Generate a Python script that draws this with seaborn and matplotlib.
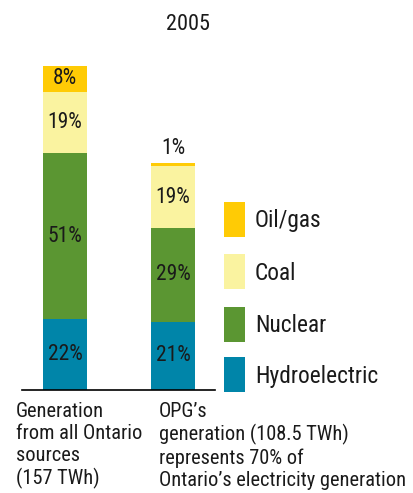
import matplotlib
matplotlib.use("Agg")
import matplotlib.pyplot as plt
import seaborn as sns
import numpy as np
import pandas as pd
from matplotlib.patches import Rectangle

sns.set_theme(style="white")
plt.rcParams['font.family'] = ['Roboto Condensed', 'DejaVu Sans']

categories = ["all", "opg"]
sources = ["Hydroelectric", "Nuclear", "Coal", "Oil/gas"]
hydro = [22, 21]
nuclear = [51, 29]
coal = [19, 19]
oilgas = [8, 1]
colors = {"Hydroelectric": "#0085A9", "Nuclear": "#5B9632",
          "Coal": "#FAF3A0", "Oil/gas": "#FFCB05"}
legend_order = ["Oil/gas", "Coal", "Nuclear", "Hydroelectric"]
title = "2005"
left_label = "Generation\nfrom all Ontario\nsources\n(157 TWh)"
right_label = "OPG\u2019s\ngeneration (108.5 TWh)\nrepresents 70% of\nOntario\u2019s electricity generation"

W, H = 413, 493
fig = plt.figure(figsize=(W / 100, H / 100), dpi=100)
# axes in pixel coords: x 22..215, y 66 (100%) .. 390 (0)
ax = fig.add_axes([22 / W, 1 - 390 / H, (215 - 22) / W, (390 - 66) / H])

vals = np.array([hydro, nuclear, coal, oilgas], dtype=float)
cum = np.cumsum(vals, axis=0)
for i in range(len(sources) - 1, -1, -1):
    d = pd.DataFrame({"cat": categories, "v": cum[i]})
    sns.barplot(data=d, x="cat", y="v", color=colors[sources[i]], width=0.407,
                saturation=1, ax=ax, edgecolor="none", linewidth=0)

ax.set_xlim((22 - 65) / 108, (215 - 65) / 108)
ax.set_ylim(0, 100)
ax.set_xlabel("")
ax.set_ylabel("")
ax.set_xticks([])
ax.set_yticks([])
for s in ["top", "right", "left"]:
    ax.spines[s].set_visible(False)
ax.spines["bottom"].set_color("black")
ax.spines["bottom"].set_linewidth(1.2)
ax.patch.set_alpha(0)

fs = 15.5
for j in range(len(categories)):
    for i in range(len(sources)):
        v = vals[i, j]
        bottom = cum[i, j] - v
        if v >= 3:
            ax.text(j, bottom + v / 2, f"{int(v)}%", ha="center", va="center",
                    fontsize=fs, color="#1a1a1a")
        else:
            ax.text(j, cum[i, j] + 1.2, f"{int(v)}%", ha="center", va="bottom",
                    fontsize=fs, color="#1a1a1a")

fig.text(188 / W, 1 - 25 / H, title, ha="center", va="center", fontsize=16, color="#1a1a1a")

# legend
ly = [202, 254, 307, 357]
for name, y in zip(legend_order, ly):
    fig.add_artist(Rectangle((224 / W, 1 - (y + 35) / H), 21 / W, 35 / H,
                             transform=fig.transFigure, facecolor=colors[name],
                             edgecolor="none"))
    fig.text(255 / W, 1 - (y + 19) / H, name, ha="left", va="center",
             fontsize=16.8, color="#1a1a1a")

fig.text(16 / W, 1 - 402 / H, left_label, ha="left", va="top", fontsize=14.7,
         color="#1a1a1a", linespacing=1.2)
fig.text(159 / W, 1 - 402 / H, right_label, ha="left", va="top", fontsize=14.7,
         color="#1a1a1a", linespacing=1.2)

fig.savefig("out.png", dpi=100)
